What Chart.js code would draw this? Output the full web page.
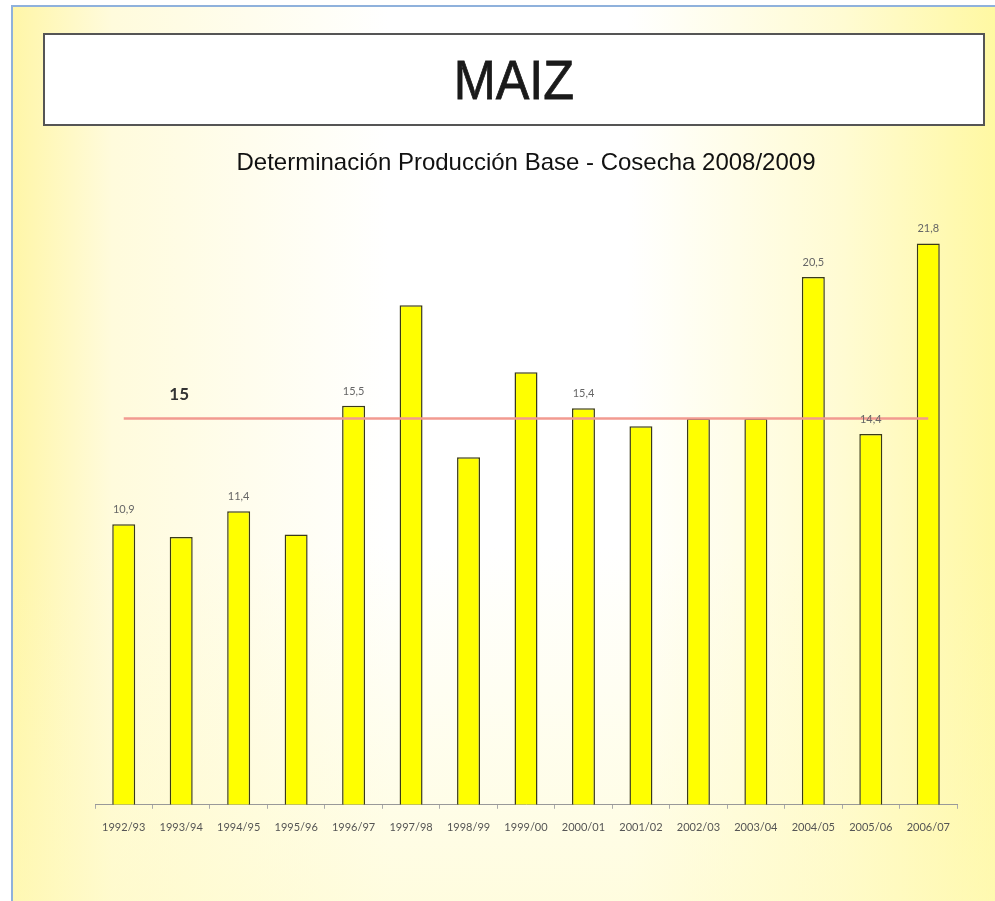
<!DOCTYPE html>
<html>
<head>
<meta charset="utf-8">
<title>MAIZ</title>
<script src="https://cdn.jsdelivr.net/npm/chart.js"></script>
<style>
	body { margin: 0; width: 995px; height: 901px; overflow: hidden; background: #fff; }
	#page {
		position: absolute; left: 11px; top: 5px; width: 990px; height: 900px;
		border-left: 2px solid #8fb1dc; border-top: 2px solid #8fb1dc;
		background:
			linear-gradient(to bottom, rgba(255,255,255,0) 60%, rgba(255,250,190,0.5) 100%),
			linear-gradient(to right, #fff6a8 0%, #fffbdc 10%, #ffffff 38%, #ffffff 62%, #fffbd2 84%, #fff8a0 100%);
	}
	#titleBox {
		position: absolute; left: 43px; top: 33px; width: 938px; height: 89px;
		border: 2px solid #555; background: #fff;
		font-family: "Liberation Sans", Arial, sans-serif; font-size: 56px; color: #1a1a1a;
		text-align: center; line-height: 89px;
	}
	#titleBox span { display: inline-block; transform: scaleX(0.9); -webkit-text-stroke: 0.8px #1a1a1a; }
	#chartBox { position: absolute; left: 0; top: 140px; width: 995px; height: 761px; }
</style>
</head>
<body>
<div id="page"></div>
<div id="titleBox"><span>MAIZ</span></div>
<div id="chartBox"><canvas id="myChart"></canvas></div>

<script>
	// campaign years
	let campanias = ["1992/93","1993/94","1994/95","1995/96","1996/97","1997/98","1998/99","1999/00",
		"2000/01","2001/02","2002/03","2003/04","2004/05","2005/06","2006/07"];

	// production (millions of tons)
	let produccion = [10.9, 10.4, 11.4, 10.5, 15.5, 19.4, 13.5, 16.8, 15.4, 14.7, 15.0, 15.0, 20.5, 14.4, 21.8];

	// value labels shown only on some bars
	let etiquetas = ["10,9","","11,4","","15,5","","","","15,4","","","","20,5","14,4","21,8"];

	// base production line
	let base = [15,15,15,15,15,15,15,15,15,15,15,15,15,15,15];
	let baseLabel = "15";

	let subtitulo = "Determinación Producción Base - Cosecha 2008/2009";

	// draws the little numbers above bars and the "15" tag
	let labelPlugin = {
		id: 'labelPlugin',
		afterDatasetsDraw(chart){
			let ctx = chart.ctx;
			let meta = chart.getDatasetMeta(1);
			ctx.save();
			ctx.font = '11px Lato, "Open Sans", sans-serif';
			ctx.fillStyle = '#666';
			ctx.textAlign = 'center';
			ctx.textBaseline = 'bottom';
			for (let i=0; i<meta.data.length; i++){
				if (etiquetas[i] != ""){
					let bar = meta.data[i];
					ctx.fillText(etiquetas[i], bar.x, bar.y - 9);
				}
			}
			let xs = chart.scales.x;
			let ys = chart.scales.y;
			ctx.font = 'bold 17px Lato, "Open Sans", sans-serif';
			ctx.fillStyle = '#333';
			ctx.fillText(baseLabel, xs.getPixelForValue(1) - 2, ys.getPixelForValue(base[0]) - 16);
			ctx.restore();
		}
	};

	let ctx = document.getElementById('myChart');

	let myChart = new Chart(ctx, {
		type: 'bar',
		data: {
			labels: campanias,
			datasets: [{
				type: 'line',
				label: 'Base',
				data: base,
				borderColor: '#f29a90',
				borderWidth: 2.5,
				pointRadius: 0,
				fill: false,
				order: 0
			},{
				type: 'bar',
				label: 'Producción',
				data: produccion,
				backgroundColor: '#ffff00',
				borderColor: '#3a3a1a',
				borderWidth: 1.5,
				barPercentage: 0.40,
				categoryPercentage: 1.0,
				order: 1
			}]
		},
		options: {
			responsive: true,
			maintainAspectRatio: false,
			animation: false,
			layout: { padding: { left: 95, right: 38, top: 0, bottom: 55 } },
			plugins: {
				legend: { display: false },
				tooltip: { enabled: false },
				title: {
					display: true,
					text: subtitulo,
					color: '#111',
					font: { family: '"Liberation Sans", Arial, sans-serif', size: 24, weight: 'normal' },
					padding: { top: 9, bottom: 9 }
				}
			},
			scales: {
				x: {
					grid: { display: true, drawOnChartArea: false, tickLength: 4, color: '#aaa' },
					border: { display: true, color: '#999', width: 1 },
					ticks: { color: '#555', font: { family: 'Lato, "Open Sans", sans-serif', size: 11 }, padding: 12, maxRotation: 0, autoSkip: false }
				},
				y: {
					display: false,
					min: 0,
					max: 24
				}
			}
		},
		plugins: [labelPlugin]
	});
</script>
</body>
</html>
